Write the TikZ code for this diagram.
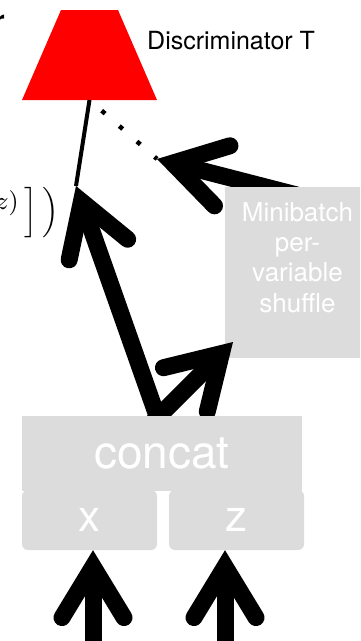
\documentclass[tikz,border=0pt]{standalone}
\usepackage{fontspec}
\setsansfont{TeX Gyre Heros}
\usetikzlibrary{arrows.meta}
\usetikzlibrary{positioning}
\definecolor{boxgray}{HTML}{DCDCDC}

\begin{document}
\begin{tikzpicture}[
    x=1pt, y=-1pt,
    font=\sffamily
]
\tikzset{
    graybox/.style = {fill=boxgray, text=white, inner sep=0pt},
    bigarrow/.style = {-{Straight Barb[length=51pt, width=62pt, line cap=round, line join=miter]},
        line width=17pt},
    stemline/.style = {line width=4pt},
    dotline/.style = {line width=4.5pt, dash pattern=on 4.5pt off 18.9pt, dash phase=7.2pt}
}
\useasboundingbox (0,0) rectangle (360,641);
\clip (0,0) rectangle (360,641);
\fill[red] (61,10) -- (118,10) -- (157,100) -- (22,100) -- cycle;
\coordinate (d) at (89.5,100);
\node[anchor=base west, inner sep=0pt, font=\sffamily\fontsize{25}{30}\selectfont] at (147,49) (dlabel) {Discriminator T};
\node[anchor=north east, inner sep=0pt, font=\sffamily\bfseries\fontsize{28}{34}\selectfont] at (5,15) (rcut) {r};
\node[anchor=base east, inner sep=0pt, scale=2.8] at (60,219.5) (lossend)
    {$^{\mbox{\fontsize{9}{11}\selectfont$z)$}}\,\Big]\,\Big)$};
\coordinate (joint) at (76,186);
\coordinate (dtip) at (157,159);
\coordinate (afoot) at (320,201);
\coordinate (bfoot) at (162,430);
\coordinate (cfoot) at (145,430);
\coordinate (ctip) at (233,342);
\coordinate (xfeed) at (93,680);
\coordinate (zfeed) at (225,680);
\draw[stemline] (d) -- (joint);
\draw[dotline] (d) -- (dtip);
\draw[bigarrow] (afoot) -- (dtip);
\node[graybox, minimum width=145pt, minimum height=171pt] at (297.5,272.5) (shuffle) {};
\node[graybox, align=center, font=\sffamily\fontsize{26}{30.3}\selectfont]
    at ([yshift=15pt]shuffle.center) (shuffletext) {Minibatch\\per-\\variable\\shuffle};
\draw[bigarrow] (bfoot) -- (joint);
\draw[bigarrow] (cfoot) -- (ctip);
\node[graybox, rounded corners=6pt, minimum width=135pt, minimum height=60pt,
    font=\sffamily\fontsize{44}{50}\selectfont] at (89.5,520) (x) {x};
\node[graybox, rounded corners=6pt, minimum width=135pt, minimum height=60pt,
    font=\sffamily\fontsize{44}{50}\selectfont] at (236.5,520) (z) {z};
\node[graybox, minimum width=280pt, minimum height=75pt,
    font=\sffamily\fontsize{46}{52}\selectfont] at (162,453.5) (concat) {concat};
\draw[bigarrow] (xfeed) -- (xfeed |- x.south);
\draw[bigarrow] (zfeed) -- (zfeed |- z.south);
\end{tikzpicture}
\end{document}
